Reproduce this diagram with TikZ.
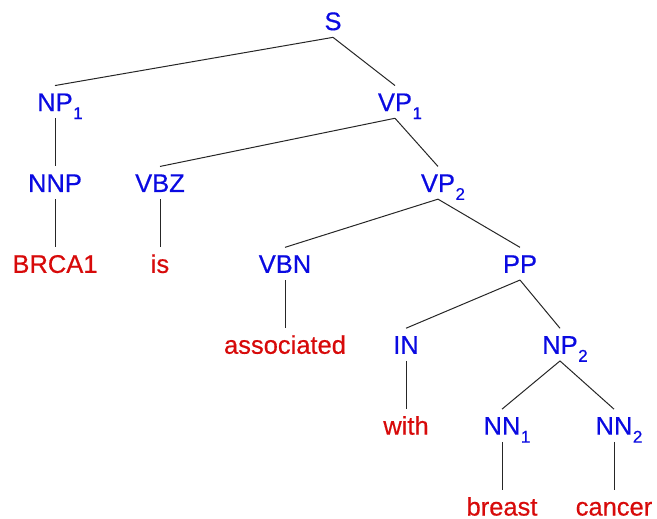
\documentclass[tikz,border=0pt]{standalone}
\usepackage{fontspec}
\setmainfont{Liberation Sans}
\newfontfamily\treefont[FakeBold=0.5]{Liberation Sans}
\usepackage{tikz}
\usetikzlibrary{positioning}
\definecolor{tagblue}{RGB}{10,10,225}
\definecolor{wordred}{RGB}{215,10,10}
\newcommand{\tagsub}[1]{\rlap{\kern0.5pt\raisebox{-8pt}{\fontsize{17}{17}\selectfont #1}}}
\begin{document}
\begin{tikzpicture}[
            node distance=48.2pt,
            every node/.style={font=\treefont\fontsize{25.5}{30}\selectfont, inner xsep=0pt, inner ysep=7pt, text height=18.3pt, text depth=0pt},
            tagnode/.style={text=tagblue},
            wordnode/.style={text=wordred},
            branch/.style={line width=1pt, black!85},
            ]
            \useasboundingbox (0,0) rectangle (657pt,-519pt);
            \node[tagnode]    (s)     at (333pt,-21pt) {S};
            \node[tagnode]    (np1)   [below=of s, xshift=-278pt] {NP\tagsub{1}};
            \node[tagnode]    (vp1)   [below=of s, xshift=62pt] {VP\tagsub{1}};

            \node[tagnode]    (nnp)   [below=of np1] {NNP};
            \node[wordnode]   (brca)  [below=of nnp] {BRCA1};

            \node[tagnode]    (vbz)   [below=of vp1, xshift=-235pt] {VBZ};
            \node[wordnode]   (is)    [below=of vbz] {is};
            \node[tagnode]    (vp2)   [below=of vp1, xshift=43pt] {VP\tagsub{2}};

            \node[tagnode]    (vbn)   [below=of vp2, xshift=-153pt] {VBN};
            \node[wordnode]   (assoc) [below=of vbn] {associated};
            \node[tagnode]    (pp)    [below=of vp2, xshift=82pt] {PP};

            \node[tagnode]    (in)    [below=of pp, xshift=-114pt] {IN};
            \node[wordnode]   (with)  [below=of in] {with};
            \node[tagnode]    (np2)   [below=of pp, xshift=40pt] {NP\tagsub{2}};

            \node[tagnode]    (nn1)   [below=of np2, xshift=-58pt] {NN\tagsub{1}};
            \node[wordnode]   (breast)[below=of nn1] {breast};
            \node[tagnode]    (nn2)   [below=of np2, xshift=54pt] {NN\tagsub{2}};
            \node[wordnode]   (cancer)[below=of nn2] {cancer};

            \draw[branch] (s.south) -- (np1.north);
            \draw[branch] (s.south) -- (vp1.north);
            \draw[branch] (np1) -- (nnp);
            \draw[branch] (nnp) -- (brca);
            \draw[branch] (vp1.south) -- (vbz.north);
            \draw[branch] (vp1.south) -- (vp2.north);
            \draw[branch] (vbz) -- (is);
            \draw[branch] (vp2.south) -- (vbn.north);
            \draw[branch] (vp2.south) -- (pp.north);
            \draw[branch] (vbn) -- (assoc);
            \draw[branch] (pp.south) -- (in.north);
            \draw[branch] (pp.south) -- (np2.north);
            \draw[branch] (in) -- (with);
            \draw[branch] (np2.south) -- (nn1.north);
            \draw[branch] (np2.south) -- (nn2.north);
            \draw[branch] (nn1) -- (breast);
            \draw[branch] (nn2) -- (cancer);
        \end{tikzpicture}
\end{document}
